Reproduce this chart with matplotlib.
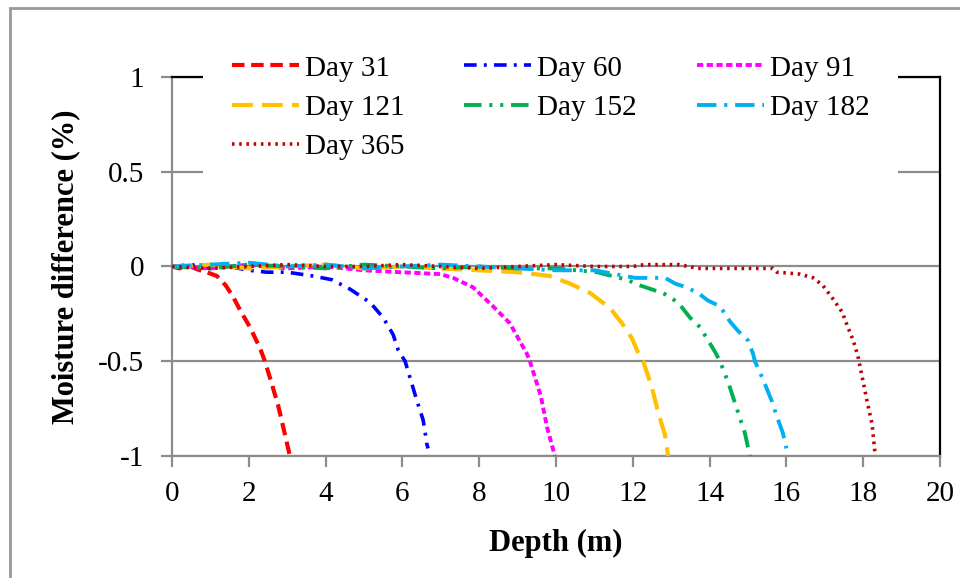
import matplotlib
matplotlib.use("Agg")
import matplotlib.pyplot as plt
from matplotlib.patches import Rectangle

plt.rcParams["font.family"] = ["Liberation Serif", "DejaVu Serif"]

# values
depth_31 = [0.0, 0.2, 0.4, 0.6, 0.73, 0.9, 1.17, 1.4, 1.59, 1.8, 2.03, 2.29, 2.42, 2.6, 2.76, 2.9, 3.07]
diff_31 = [0.0, -0.01, 0.01, -0.01, -0.02, -0.03, -0.05, -0.1, -0.16, -0.24, -0.32, -0.43, -0.5, -0.62, -0.73, -0.85, -1.0]

depth_60 = [0.0, 0.5, 1.0, 1.5, 2.0, 2.47, 3.0, 3.67, 4.17, 4.64, 5.16, 5.5, 5.76, 5.89, 6.07, 6.38, 6.54, 6.64, 6.67]
diff_60 = [0.0, 0.01, -0.01, 0.0, -0.02, -0.03, -0.03, -0.05, -0.07, -0.12, -0.19, -0.27, -0.36, -0.44, -0.5, -0.71, -0.81, -0.94, -0.96]

depth_91 = [0.0, 1.0, 2.0, 3.0, 4.0, 5.0, 5.94, 6.98, 7.32, 7.84, 8.36, 8.8, 9.24, 9.32, 9.6, 9.77, 9.97]
diff_91 = [0.0, -0.01, 0.01, -0.01, 0.0, -0.02, -0.03, -0.04, -0.06, -0.11, -0.21, -0.3, -0.46, -0.5, -0.68, -0.85, -1.0]

depth_121 = [0.0, 1.0, 2.0, 3.0, 4.0, 5.0, 6.0, 7.0, 8.0, 9.0, 9.84, 10.36, 10.89, 11.41, 11.72, 11.98, 12.19, 12.27, 12.5, 12.66, 12.84, 12.92]
diff_121 = [0.0, 0.01, -0.01, 0.0, 0.01, -0.01, 0.0, -0.01, -0.02, -0.03, -0.05, -0.09, -0.14, -0.22, -0.3, -0.38, -0.48, -0.5, -0.64, -0.77, -0.89, -1.0]

depth_152 = [0.0, 1.0, 2.0, 3.0, 4.0, 5.0, 6.0, 7.0, 8.0, 9.0, 10.0, 11.07, 11.85, 12.19, 12.63, 12.79, 13.18, 13.49, 13.75, 13.96, 14.14, 14.27, 14.5, 14.66, 14.79, 14.92, 15.05]
diff_152 = [0.0, -0.01, 0.01, 0.0, -0.01, 0.01, 0.0, -0.01, 0.0, -0.01, -0.01, -0.03, -0.07, -0.1, -0.13, -0.14, -0.19, -0.27, -0.32, -0.39, -0.45, -0.5, -0.62, -0.72, -0.8, -0.88, -1.0]

depth_182 = [0.0, 1.0, 2.0, 3.0, 4.0, 5.0, 6.0, 7.0, 8.0, 9.0, 10.0, 11.0, 12.06, 12.84, 13.1, 13.4, 13.7, 13.96, 14.27, 14.53, 14.74, 15.0, 15.13, 15.18, 15.4, 15.62, 15.75, 15.91, 16.0]
diff_182 = [0.0, 0.01, 0.02, 0.0, 0.01, -0.01, 0.0, 0.01, 0.0, -0.01, -0.02, -0.02, -0.06, -0.06, -0.09, -0.11, -0.14, -0.18, -0.21, -0.29, -0.34, -0.39, -0.46, -0.5, -0.6, -0.71, -0.79, -0.88, -0.96]

depth_365 = [0.0, 1.0, 2.0, 3.0, 4.0, 5.0, 6.0, 7.0, 8.0, 9.0, 10.0, 11.0, 12.0, 12.3, 13.2, 13.7, 14.5, 15.65, 15.75, 16.35, 16.7, 16.95, 17.21, 17.45, 17.6, 17.74, 17.86, 18.1, 18.23, 18.31]
diff_365 = [0.0, -0.01, 0.0, 0.01, 0.0, 0.0, 0.01, 0.0, -0.01, 0.0, 0.01, 0.0, 0.0, 0.01, 0.01, -0.01, -0.01, -0.01, -0.03, -0.04, -0.06, -0.1, -0.17, -0.24, -0.32, -0.39, -0.47, -0.71, -0.83, -0.99]

series = [
    ("Day 31", depth_31, diff_31, "#FF0000", (0, (3.0, 1.6)), 3.0),
    ("Day 60", depth_60, diff_60, "#0000FF", (0, (3.5, 2.0, 0.8, 2.0)), 2.6),
    ("Day 91", depth_91, diff_91, "#FF00FF", (0, (1.6, 0.9)), 2.8),
    ("Day 121", depth_121, diff_121, "#FFC000", (0, (5.0, 2.2)), 3.0),
    ("Day 152", depth_152, diff_152, "#00B050", (0, (4.5, 2.0, 0.8, 2.0, 0.8, 2.0)), 2.8),
    ("Day 182", depth_182, diff_182, "#00B0F0", (0, (5.0, 2.0, 0.8, 2.0)), 2.8),
    ("Day 365", depth_365, diff_365, "#C00000", (0, (0.7, 1.3)), 2.6),
]

fig = plt.figure(figsize=(9.6, 5.78), dpi=100)
ax = fig.add_axes([172 / 960, 1 - 456 / 578, 768 / 960, 379 / 578])

lines = {}
for label, x, y, color, ls, lw in series:
    lines[label], = ax.plot(x, y, color=color, linestyle=ls, linewidth=lw,
                            label=label, zorder=3)

ax.set_xlim(0, 20)
ax.set_ylim(-1, 1)
ax.set_xticks(range(0, 21, 2))
ax.set_yticks([-1, -0.5, 0, 0.5, 1])
ax.set_yticklabels(["-1", "-0.5", "0", "0.5", "1"])
ax.yaxis.grid(True, color="#8c8c8c", linewidth=1.6)
ax.set_axisbelow(True)

ax.spines["left"].set_color("#8c8c8c")
ax.spines["bottom"].set_color("#8c8c8c")
ax.spines["top"].set_color("black")
ax.spines["right"].set_color("black")
for s in ax.spines.values():
    s.set_linewidth(1.6)

ax.tick_params(axis="x", direction="out", length=8, width=1.6, color="#8c8c8c",
               labelsize=21, pad=10)
ax.tick_params(axis="y", direction="out", length=8, width=1.6, color="#8c8c8c",
               labelsize=21, pad=12)

ax.set_xlabel("Depth (m)", fontsize=22, fontweight="bold", labelpad=16)
ax.set_ylabel("Moisture difference (%)", fontsize=22, fontweight="bold", labelpad=13)

# legend is filled row by row in the original, matplotlib fills by column
order = ["Day 31", "Day 121", "Day 365", "Day 60", "Day 152", "Day 91", "Day 182"]
leg = ax.legend([lines[k] for k in order], order,
                loc="upper center", bbox_to_anchor=(0.493, 1.173), ncol=3,
                fontsize=21, frameon=True, facecolor="white", edgecolor="none",
                framealpha=1, fancybox=False, handlelength=2.3, handletextpad=0.2,
                columnspacing=2.05, labelspacing=0.44, borderpad=1.0)
leg.set_zorder(5)

# outer frame of the original figure
fig.add_artist(Rectangle((10 / 960, -0.1), 1.2, 1 - 8 / 578 + 0.1,
                         transform=fig.transFigure, fill=False,
                         edgecolor="#999999", linewidth=2.0))

fig.savefig("out.png", dpi=100)
